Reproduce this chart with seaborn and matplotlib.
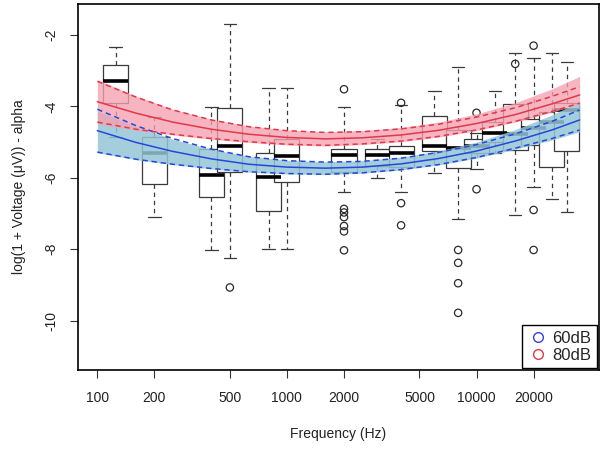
import numpy as np
import pandas as pd
import matplotlib
matplotlib.use("Agg")
import matplotlib.pyplot as plt
import seaborn as sns
from matplotlib.lines import Line2D

# ---------------- data ----------------
box_freqs = [125, 200, 400, 500, 800, 1000, 2000, 3000, 4000, 6000,
             8000, 10000, 12500, 16000, 20000, 25000, 30000]
box_wlo = [-4.85, -7.11, -8.02, -8.24, -7.98, -7.98, -6.41, -6.00, -6.41, -5.87,
           -7.15, -5.75, -5.30, -7.04, -6.27, -6.59, -6.95]
box_q1 = [-3.90, -6.18, -6.53, -5.85, -6.92, -6.13, -5.85, -5.66, -5.70, -5.24,
          -5.73, -5.30, -5.00, -5.22, -5.08, -5.69, -5.25]
box_med = [-3.29, -5.30, -5.92, -5.10, -5.97, -5.38, -5.35, -5.35, -5.31, -5.10,
           -5.17, -5.11, -4.75, -4.76, -4.61, -4.45, -4.10]
box_q3 = [-2.85, -4.85, -5.20, -4.05, -5.30, -4.90, -5.20, -5.20, -5.10, -4.27,
          -4.66, -4.90, -4.45, -3.93, -4.35, -4.15, -3.91]
box_whi = [-2.33, -4.30, -4.01, -1.69, -3.48, -3.48, -4.03, -4.90, -3.97, -3.58,
           -2.91, -4.74, -3.56, -2.51, -2.64, -2.51, -2.77]

out_freqs = [500, 2000, 2000, 2000, 2000, 2000, 2000, 2000, 4000, 4000, 4000,
             8000, 8000, 8000, 8000, 10000, 10000, 16000, 20000, 20000, 20000]
out_vals = [-9.07, -3.52, -6.87, -6.97, -7.10, -7.35, -7.50, -8.03, -3.90, -6.71, -7.33,
            -8.02, -8.38, -8.95, -9.78, -4.18, -6.32, -2.81, -2.30, -6.90, -8.02]

curve_freqs = [100, 160, 250, 400, 630, 1000, 1600, 2500, 4000, 6300,
               10000, 16000, 25000, 35000]
fit_80 = [-3.87, -4.19, -4.44, -4.64, -4.78, -4.87, -4.91, -4.88, -4.80, -4.67,
          -4.48, -4.23, -3.93, -3.68]
fit_60 = [-4.68, -5.01, -5.26, -5.47, -5.62, -5.70, -5.73, -5.70, -5.61, -5.46,
          -5.25, -4.97, -4.66, -4.38]
ci_80 = [0.57, 0.45, 0.34, 0.26, 0.21, 0.19, 0.18, 0.17, 0.17, 0.17,
         0.18, 0.19, 0.21, 0.23]
ci_60 = [0.60, 0.47, 0.36, 0.27, 0.21, 0.18, 0.17, 0.16, 0.16, 0.17,
         0.18, 0.20, 0.24, 0.28]
band_80_up = [0.62, 0.48, 0.36, 0.28, 0.23, 0.21, 0.20, 0.20, 0.21, 0.23,
              0.27, 0.33, 0.42, 0.52]
band_80_dn = [0.62, 0.48, 0.36, 0.28, 0.23, 0.21, 0.20, 0.19, 0.19, 0.19,
              0.20, 0.21, 0.23, 0.25]
band_60_up = [0.55, 0.44, 0.34, 0.27, 0.22, 0.19, 0.18, 0.18, 0.19, 0.21,
              0.25, 0.32, 0.42, 0.52]
band_60_dn = [0.62, 0.48, 0.37, 0.28, 0.22, 0.19, 0.18, 0.17, 0.17, 0.18,
              0.20, 0.23, 0.28, 0.33]

x_ticks = [100, 200, 500, 1000, 2000, 5000, 10000, 20000]
y_ticks = [-10, -8, -6, -4, -2]
legend_labels = ["60dB", "80dB"]

# ---------------- style ----------------
sns.set_theme(style="white")
plt.rcParams['font.family'] = ['Liberation Sans', 'DejaVu Sans']

W, H = 605, 450
fig = plt.figure(figsize=(W / 100, H / 100), dpi=100)
ax = fig.add_axes([78 / W, 80 / H, 521 / W, 366.5 / H])

# ---------------- boxplots ----------------
rows = []
for f, a, b, c, d, e in zip(box_freqs, box_wlo, box_q1, box_med, box_q3, box_whi):
    for v in (a, b, c, d, e):
        rows.append((np.log10(f), v))
df_box = pd.DataFrame(rows, columns=["logf", "value"])

pos = np.sort(np.log10(box_freqs))
min_gap = np.min(np.diff(pos))
box_w = 0.132  # width in log10 units

sns.boxplot(data=df_box, x="logf", y="value", orient="x", native_scale=True,
            width=box_w / min_gap, whis=np.inf, showfliers=False,
            color="white", linecolor="#3a3a3a", linewidth=0.9, ax=ax,
            medianprops=dict(color="black", linewidth=2.6),
            whiskerprops=dict(linestyle=(0, (3.5, 3))),
            zorder=2)

df_out = pd.DataFrame({"logf": np.log10(out_freqs), "value": out_vals})
ax.scatter(df_out["logf"], df_out["value"], s=28, facecolors="none",
           edgecolors="#2a2a2a", linewidths=0.9, zorder=3)

# ---------------- fitted curves ----------------
u = np.log10(curve_freqs)
f80 = np.array(fit_80); f60 = np.array(fit_60)

ax.fill_between(u, f60 + np.array(band_60_up), f60 - np.array(band_60_dn),
                color="#94C6D6", alpha=0.85, lw=0, zorder=4)
ax.fill_between(u, f80 + np.array(band_80_up), f80 - np.array(band_80_dn),
                color="#F5A1B1", alpha=0.78, lw=0, zorder=5)

red = "#E23848"
blue = "#2547DD"
dash = (0, (3.5, 2.5))
sns.lineplot(x=u, y=f60, color=blue, linewidth=1.1, ax=ax, zorder=6)
sns.lineplot(x=u, y=f60 + np.array(ci_60), color=blue, linewidth=1.1, linestyle=dash, ax=ax, zorder=6)
sns.lineplot(x=u, y=f60 - np.array(ci_60), color=blue, linewidth=1.1, linestyle=dash, ax=ax, zorder=6)
sns.lineplot(x=u, y=f80, color=red, linewidth=1.1, ax=ax, zorder=7)
sns.lineplot(x=u, y=f80 + np.array(ci_80), color=red, linewidth=1.1, linestyle=dash, ax=ax, zorder=7)
sns.lineplot(x=u, y=f80 - np.array(ci_80), color=red, linewidth=1.1, linestyle=dash, ax=ax, zorder=7)

# ---------------- axes ----------------
ax.set_xlim(1.898, 4.646)
ax.set_ylim(-11.38, -1.12)
ax.set_xticks(np.log10(x_ticks))
ax.set_xticklabels([str(t) for t in x_ticks])
ax.set_yticks(y_ticks)
ax.set_yticklabels([str(t) for t in y_ticks], rotation=90, va="center")
ax.tick_params(axis="both", direction="out", length=6, width=0.8, color="#333333",
               labelsize=10, labelcolor="#222222")
ax.tick_params(axis="x", pad=9)
ax.tick_params(axis="y", pad=8)
ax.tick_params(left=True, bottom=True)
for s in ax.spines.values():
    s.set_visible(True)
    s.set_color("black")
    s.set_linewidth(1.2)
ax.set_xlabel("Frequency (Hz)", fontsize=10, color="#222222", labelpad=16)
ax.set_ylabel("log(1 + Voltage (μV)) - alpha", fontsize=10, color="#222222", labelpad=13)
ax.grid(False)

handles = [Line2D([], [], marker="o", linestyle="none", markerfacecolor="none",
                  markeredgecolor="#3340E0", markersize=7, markeredgewidth=1.0),
           Line2D([], [], marker="o", linestyle="none", markerfacecolor="none",
                  markeredgecolor="#E03A44", markersize=7, markeredgewidth=1.0)]
leg = ax.legend(handles, legend_labels, loc="lower right", bbox_to_anchor=(1.0, 0.0),
                borderaxespad=0.1, fontsize=12, frameon=True, fancybox=False,
                edgecolor="black", framealpha=1, handletextpad=0.3,
                borderpad=0.35, labelspacing=0.1, handlelength=1.2)
leg.get_frame().set_linewidth(1.0)
leg.set_zorder(10)

fig.savefig("out.png", dpi=100)
